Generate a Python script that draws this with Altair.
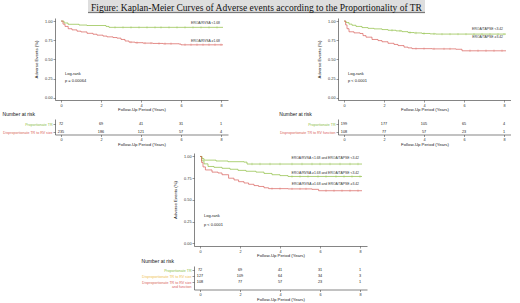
import altair as alt
import pandas as pd

TITLE = "Figure: Kaplan-Meier Curves of Adverse events according to the Proportionality of TR"

# ---------------- data ----------------
# Panel 1 (EROA/RVSA)
p1_green_t = [0, 0.15, 0.35, 0.9, 1.3, 2.25, 2.4, 8.1]
p1_green_s = [1.0, 0.975, 0.958, 0.948, 0.942, 0.93, 0.918, 0.918]
p1_red_t = [0, 0.1, 0.2, 0.36, 0.55, 0.8, 1.0, 1.3, 1.6, 1.8, 2.1, 2.3, 2.6, 2.8, 3.0, 3.2, 3.4, 3.7, 4.1, 4.6, 5.1, 5.9, 6.0, 8.1]
p1_red_s = [1.0, 0.96, 0.93, 0.9, 0.885, 0.868, 0.858, 0.84, 0.828, 0.816, 0.804, 0.794, 0.785, 0.777, 0.76, 0.74, 0.725, 0.718, 0.712, 0.708, 0.704, 0.70, 0.69, 0.69]
p1_green_c = [2.7, 3.1, 3.5, 3.9, 4.3, 4.7, 5.0, 5.4, 5.8, 6.2, 6.6, 7.0, 7.4, 7.8]
p1_red_c = [3.5, 3.8, 4.2, 4.5, 4.9, 5.2, 5.5, 6.2, 6.5, 6.8, 7.1, 7.4, 7.7, 8.0]

# Panel 2 (EROA/TAPSE)
p2_green_t = [0, 0.1, 0.25, 0.4, 0.6, 0.9, 1.2, 1.5, 1.9, 2.2, 2.6, 2.9, 3.2, 3.5, 3.9, 4.3, 4.6, 8.1]
p2_green_s = [1.0, 0.98, 0.96, 0.945, 0.93, 0.915, 0.905, 0.898, 0.889, 0.88, 0.872, 0.862, 0.85, 0.845, 0.838, 0.833, 0.83, 0.83]
p2_red_t = [0, 0.08, 0.15, 0.25, 0.5, 0.8, 0.95, 1.1, 1.4, 1.7, 1.9, 2.2, 2.5, 2.7, 3.0, 3.2, 3.4, 4.4, 5.6, 5.9, 8.1]
p2_red_s = [1.0, 0.95, 0.9, 0.86, 0.846, 0.838, 0.81, 0.79, 0.76, 0.745, 0.73, 0.71, 0.695, 0.68, 0.66, 0.65, 0.64, 0.637, 0.632, 0.612, 0.612]
p2_green_c = [2.4, 2.8, 3.3, 3.6, 4.0, 4.5, 4.9, 5.3, 5.7, 6.1, 6.5, 6.9, 7.3, 7.7, 8.0]
p2_red_c = [3.6, 4.0, 4.5, 5.0, 5.3, 6.3, 6.7, 7.1, 7.5, 7.9]

# Panel 3 (combined)
p3_green_t = [0, 0.1, 0.2, 0.8, 1.4, 2.2, 2.35, 8.1]
p3_green_s = [1.0, 0.975, 0.958, 0.948, 0.94, 0.935, 0.913, 0.913]
p3_yellow_t = [0, 0.08, 0.2, 0.4, 0.7, 1.1, 1.5, 1.9, 2.3, 2.8, 3.2, 3.6, 4.0, 4.4, 8.1]
p3_yellow_s = [1.0, 0.95, 0.915, 0.885, 0.875, 0.864, 0.853, 0.84, 0.83, 0.82, 0.805, 0.79, 0.78, 0.77, 0.77]
p3_red_t = [0, 0.08, 0.15, 0.27, 0.6, 0.9, 1.1, 1.43, 1.7, 1.93, 2.2, 2.43, 2.7, 2.93, 3.2, 3.43, 4.4, 5.6, 5.93, 8.1]
p3_red_s = [1.0, 0.93, 0.88, 0.845, 0.82, 0.81, 0.79, 0.75, 0.73, 0.71, 0.695, 0.68, 0.665, 0.655, 0.64, 0.63, 0.627, 0.622, 0.606, 0.606]
p3_green_c = [2.6, 3.0, 3.5, 4.0, 4.6, 5.1, 5.6, 6.0, 6.5, 7.0, 7.5, 7.9]
p3_yellow_c = [4.6, 5.0, 5.4, 5.9, 6.3, 6.8, 7.2, 7.6, 8.0]
p3_red_c = [3.6, 4.0, 4.6, 5.0, 5.3, 6.3, 6.7, 7.1, 7.5, 7.9]

# curve labels
p1_lab = ["EROA/RVSA <1.68", "EROA/RVSA \u22651.68"]
p1_lab_y = [0.973, 0.74]
p2_lab = ["EROA/TAPSE <3.42", "EROA/TAPSE \u22653.42"]
p2_lab_y = [0.89, 0.795]
p3_lab = ["EROA/RVSA <1.68 and EROA/TAPSE <3.42",
          "EROA/RVSA \u22651.68 and EROA/TAPSE <3.42",
          "EROA/RVSA \u22651.68 and EROA/TAPSE \u22653.42"]
p3_lab_y = [0.977, 0.815, 0.68]
lab_x = 7.95

p1_pval = "p = 0.00064"
p2_pval = "p < 0.0001"
p3_pval = "p < 0.0001"

# number at risk
risk_times = [0, 2, 4, 6, 8]
p1_rows = ["Proportionate TR", "Disproportionate TR to RV size"]
p1_risk = [[72, 69, 41, 31, 1], [235, 186, 121, 57, 4]]
p2_rows = ["Proportionate TR", "Disproportionate TR to RV function"]
p2_risk = [[199, 177, 105, 65, 4], [108, 77, 57, 23, 1]]
p3_rows = ["Proportionate TR", "Disproportionate TR to RV size", "Disproportionate TR to RV size and function"]
p3_risk = [[72, 69, 41, 31, 1], [127, 109, 64, 34, 3], [108, 77, 57, 23, 1]]

GREEN = "#8cbd3f"
RED = "#d95f5a"
YELLOW = "#f0c050"
FONT = "Liberation Sans"

XDOM = [-0.3, 8.35]
YDOM = [-0.03, 1.04]
PW = 173


def step_at(ts, ss, t):
    v = ss[0]
    for a, b in zip(ts, ss):
        if a <= t:
            v = b
    return v


def km_chart(curves, labels, label_y, pval, height):
    names = [c[0] for c in curves]
    colors = [c[1] for c in curves]
    rows, crow = [], []
    for name, col, ts, ss, cs in curves:
        for t, s in zip(ts, ss):
            rows.append({"t": t, "s": s, "g": name})
        for c in cs:
            crow.append({"t": c, "s": step_at(ts, ss, c), "g": name})
    df = pd.DataFrame(rows)
    cdf = pd.DataFrame(crow)
    xs = alt.Scale(domain=XDOM, nice=False, zero=False)
    ys = alt.Scale(domain=YDOM, nice=False, zero=False)
    xax = alt.Axis(values=[0, 2, 4, 6, 8], title="Follow-Up Period (Years)", format="d", labelOverlap=False)
    yax = alt.Axis(values=[0, 0.25, 0.5, 0.75, 1.0], format=".2f", title="Adverse Events (%)",
                   titlePadding=6, labelOverlap=False, labelFlush=False)
    X = alt.X("t:Q", scale=xs, axis=xax)
    Y = alt.Y("s:Q", scale=ys, axis=yax)
    cs = alt.Scale(domain=names, range=colors)
    lines = alt.Chart(df).mark_line(interpolate="step-after", strokeWidth=0.7).encode(
        x=X, y=Y, color=alt.Color("g:N", scale=cs, legend=None),
    )
    cens = alt.Chart(cdf).mark_tick(orient="vertical", size=2.4, thickness=0.5).encode(
        x=X, y=Y, color=alt.Color("g:N", scale=cs, legend=None),
    )
    ldf = pd.DataFrame({"t": [lab_x] * len(labels), "s": label_y, "txt": labels})
    labs = alt.Chart(ldf).mark_text(align="right", fontSize=3.4, color="#333", font=FONT).encode(
        x=X, y=Y, text="txt:N"
    )
    pdf = pd.DataFrame({"t": [0.2, 0.2], "s": [0.31, 0.215], "txt": ["Log-rank", pval]})
    ptxt = alt.Chart(pdf).mark_text(align="left", fontSize=4, color="#222", font=FONT).encode(
        x=X, y=Y, text="txt:N"
    )
    return alt.layer(lines, cens, labs, ptxt).properties(width=PW, height=height)


def risk_chart(rows, counts, rowcolors, height, pad, align):
    recs = []
    for r, cnts in zip(rows, counts):
        for t, n in zip(risk_times, cnts):
            recs.append({"t": t, "row": r, "n": str(n)})
    df = pd.DataFrame(recs)
    expr = " : ".join(
        [f"datum.value == '{r}' ? '{c}'" for r, c in zip(rows[:-1], rowcolors[:-1])] + [f"'{rowcolors[-1]}'"]
    )
    lab_expr = "datum.label"
    for r in rows:
        if r.endswith(" and function"):
            lab_expr = f"datum.value == '{r}' ? ['Disproportionate TR to RV size', 'and function'] : datum.label"
    xs = alt.Scale(domain=XDOM, nice=False, zero=False)
    return alt.Chart(df).mark_text(fontSize=3.8, color="#222", font=FONT).encode(
        x=alt.X("t:Q", scale=xs, axis=alt.Axis(values=[0, 2, 4, 6, 8], format="d",
                                               title="Follow-Up Period (Years)", labelOverlap=False)),
        y=alt.Y("row:N", sort=rows, scale=alt.Scale(type="point", padding=pad, align=align),
                axis=alt.Axis(title=None, labelColor={"expr": expr}, labelExpr=lab_expr,
                              labelFontSize=3.6, labelLineHeight=4.4, labelOverlap=False)),
        text="n:N",
    ).properties(width=PW, height=height,
                 title=alt.TitleParams("Number at risk", anchor="start", fontSize=5,
                                       fontWeight="normal", font=FONT, offset=2, color="#111"))


km1 = km_chart([
    ("g", GREEN, p1_green_t, p1_green_s, p1_green_c),
    ("r", RED, p1_red_t, p1_red_s, p1_red_c)], p1_lab, p1_lab_y, p1_pval, 82)
km2 = km_chart([
    ("g", GREEN, p2_green_t, p2_green_s, p2_green_c),
    ("r", RED, p2_red_t, p2_red_s, p2_red_c)], p2_lab, p2_lab_y, p2_pval, 82)
km3 = km_chart([
    ("g", GREEN, p3_green_t, p3_green_s, p3_green_c),
    ("y", YELLOW, p3_yellow_t, p3_yellow_s, p3_yellow_c),
    ("r", RED, p3_red_t, p3_red_s, p3_red_c)], p3_lab, p3_lab_y, p3_pval, 93)

risk1 = risk_chart(p1_rows, p1_risk, [GREEN, RED], 15.5, 0.47, 0.67)
risk2 = risk_chart(p2_rows, p2_risk, [GREEN, RED], 15.5, 0.47, 0.67)
risk3 = risk_chart(p3_rows, p3_risk, [GREEN, YELLOW, RED], 23.5, 1.02, 0.37)

tdf = pd.DataFrame({"txt": [TITLE]})
t_bg = alt.Chart(tdf).mark_rect(color="#dedede").encode(
    x=alt.value(33), x2=alt.value(370), y=alt.value(0), y2=alt.value(13.5))
t_ul = alt.Chart(tdf).mark_rule(color="#222", strokeWidth=0.6).encode(
    x=alt.value(33), x2=alt.value(370), y=alt.value(12.4))
t_tx = alt.Chart(tdf).mark_text(font="Liberation Serif", fontSize=9.5, color="#111",
                                align="center", baseline="alphabetic").encode(
    x=alt.value(201.5), y=alt.value(11), text="txt:N")
title_chart = alt.layer(t_bg, t_ul, t_tx).properties(width=2 * PW + 110, height=14)

grid = alt.concat(km1, km2, risk1, risk2, columns=2,
                  spacing={"row": 19, "column": 110}, bounds="flush")
top = alt.vconcat(title_chart, grid, spacing=4, bounds="flush")

bottom = alt.vconcat(km3, risk3, spacing=20, bounds="flush")
spacer = alt.Chart(tdf).mark_text(opacity=0).encode(text=alt.value("")).properties(width=86, height=1)
bottom_wrapped = alt.hconcat(spacer, bottom, spacing=0)

chart = alt.vconcat(top, bottom_wrapped, spacing=0).properties(
    padding={"left": 2, "top": 0, "right": 0, "bottom": 0}
).configure_view(stroke=None).configure_axis(
    grid=False, domainColor="#333", domainWidth=0.6, tickColor="#333", tickSize=2,
    tickWidth=0.5, labelFontSize=3.8, labelColor="#333", labelFont=FONT,
    titleFontSize=4.3, titleFontWeight="normal", titleColor="#222", titleFont=FONT,
    labelPadding=1, titlePadding=1, labelOverlap=False,
).configure_text(font=FONT)

chart.save("out.html", embed_options={"renderer": "svg", "actions": False})
